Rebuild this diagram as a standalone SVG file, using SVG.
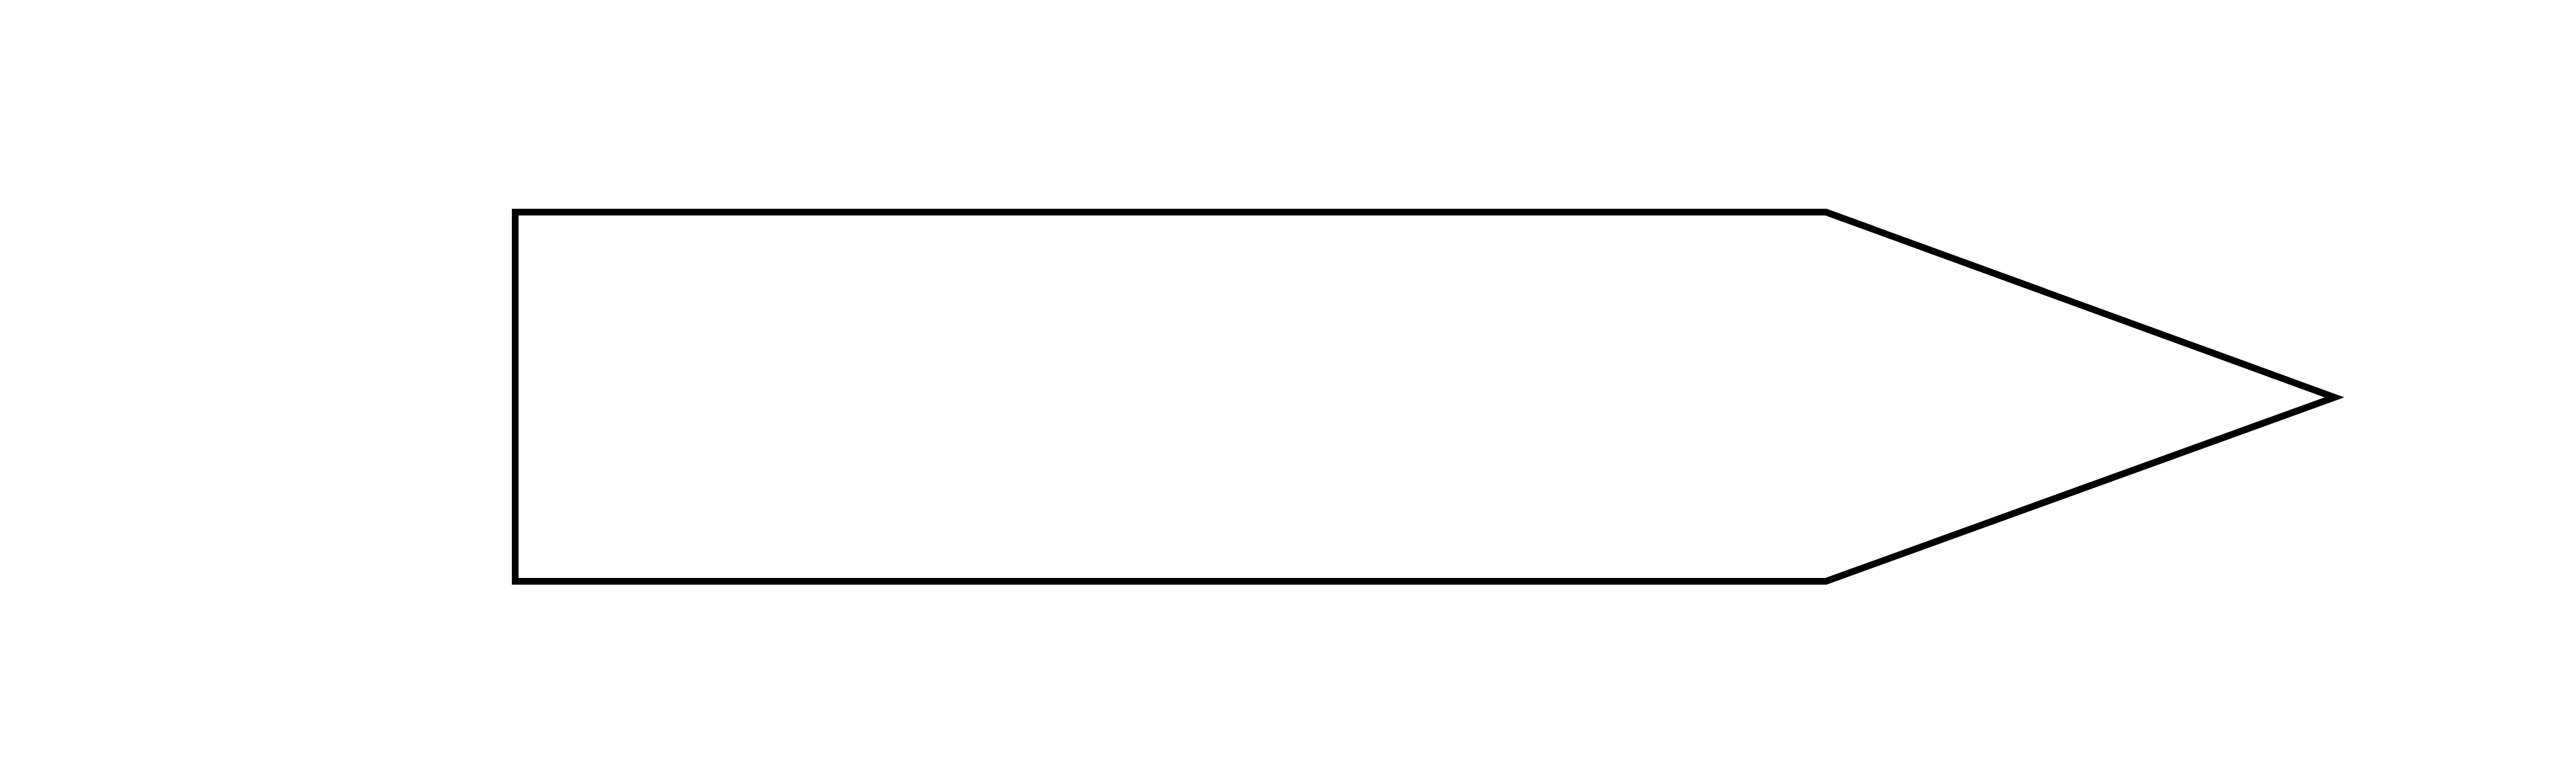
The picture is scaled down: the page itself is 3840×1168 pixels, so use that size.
<svg xmlns="http://www.w3.org/2000/svg" width="3840" height="1168" viewBox="0 0 3840 1168">
<style>
.shape{fill:#ffffff;stroke:#000000;stroke-width:10}
</style>
<rect width="3840" height="1168" fill="#ffffff"/>
<g id="node-1">
<polygon class="shape" points="768,316 2722,316 3480,592 2722,866 768,866"/>
</g>
<g id="connectors"></g>
</svg>
